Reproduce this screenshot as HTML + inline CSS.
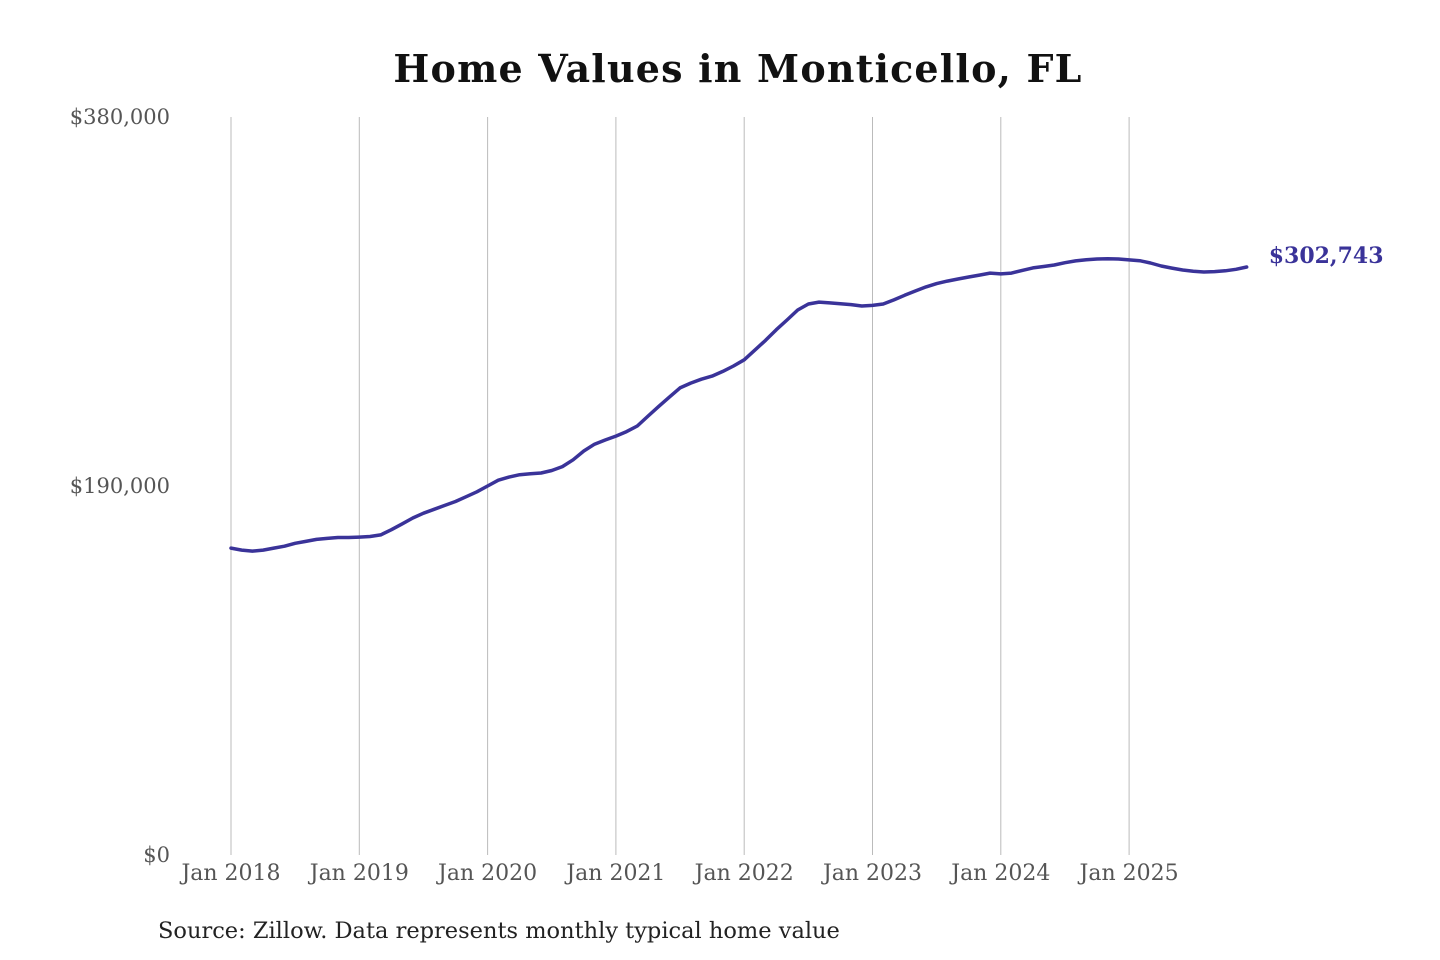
<!DOCTYPE html>
<html><head><meta charset="utf-8"><style>
body{margin:0;background:#fff;}
svg{display:block;font-family:"DejaVu Serif","Liberation Serif",serif;}
</style></head><body>
<svg id="chart" width="1440" height="960">
<text x="738" y="82" text-anchor="middle" font-size="38" font-weight="bold" letter-spacing="1.2" fill="#111">Home Values in Monticello, FL</text>
<g id="grid"></g>
<g id="yticks"></g>
<g id="xticks"></g>
<path id="line" fill="none" stroke="#3a3399" stroke-width="3.5" stroke-linejoin="round" stroke-linecap="round"></path>
<text id="endlabel" font-size="22" font-weight="bold" fill="#3a3399"></text>
<text x="158" y="938" font-size="22.5" fill="#222">Source: Zillow. Data represents monthly typical home value</text>
</svg>
<script>
const xYears = [2018,2019,2020,2021,2022,2023,2024,2025];
const yTicks = [0,190000,380000];
const yTickLabels = ["$0","$190,000","$380,000"];
const values = [
158,157,156.5,157,158,159,160.5,161.5,162.5,163,163.5,163.5,
163.7,164,164.8,167.5,170.5,173.5,176,178,180,182,184.5,187,
190,193,194.6,195.8,196.3,196.7,198,200,203.5,208,211.5,213.7,
215.7,218,220.9,226,231,235.8,240.5,243,245,246.6,249,251.8,
255,260,265,270.5,275.5,280.6,283.7,284.7,284.3,283.8,283.4,282.7,
283,283.7,285.8,288.2,290.4,292.5,294.2,295.5,296.6,297.6,298.6,299.6,
299.2,299.6,301,302.3,303,303.8,305,305.9,306.5,306.9,307,306.9,
306.4,306,304.8,303.3,302.2,301.2,300.6,300.2,300.4,300.8,301.6,302.743
].map(v=>v*1000);
const lastLabel = "$302,743";

const x0=231, yearW=128.3, yBase=855, yTop=117, yMax=380000;
const xm = i => x0 + i*yearW/12;
const ys = v => yBase - v/yMax*(yBase-yTop);
const NS="http://www.w3.org/2000/svg";
const grid=document.getElementById('grid'), xt=document.getElementById('xticks'), yt=document.getElementById('yticks');
xYears.forEach((yr,k)=>{
  const x=xm(k*12);
  const l=document.createElementNS(NS,'line');
  l.setAttribute('x1',x);l.setAttribute('x2',x);l.setAttribute('y1',yTop);l.setAttribute('y2',yBase);
  l.setAttribute('stroke','#bbb');l.setAttribute('stroke-width','1');
  
  
  grid.appendChild(l);
  const t=document.createElementNS(NS,'text');
  t.setAttribute('x',x);t.setAttribute('y',880);t.setAttribute('text-anchor','middle');
  t.setAttribute('font-size','22');t.setAttribute('fill','#555');
  t.textContent='Jan '+yr;
  
  
  xt.appendChild(t);
});
yTicks.forEach((v,k)=>{
  const t=document.createElementNS(NS,'text');
  t.setAttribute('x',170);t.setAttribute('y',ys(v)+7);t.setAttribute('text-anchor','end');
  t.setAttribute('font-size','21');t.setAttribute('fill','#555');
  t.textContent=yTickLabels[k];
  
  
  yt.appendChild(t);
});
let d='';
values.forEach((v,i)=>{d+=(i?'L':'M')+xm(i).toFixed(1)+','+ys(v).toFixed(1);});
document.getElementById('line').setAttribute('d',d);
const el=document.getElementById('endlabel');
const li=values.length-1;
el.setAttribute('x',xm(li)+22);el.setAttribute('y',ys(values[li])-4);
el.textContent=lastLabel;
</script>
</body></html>
